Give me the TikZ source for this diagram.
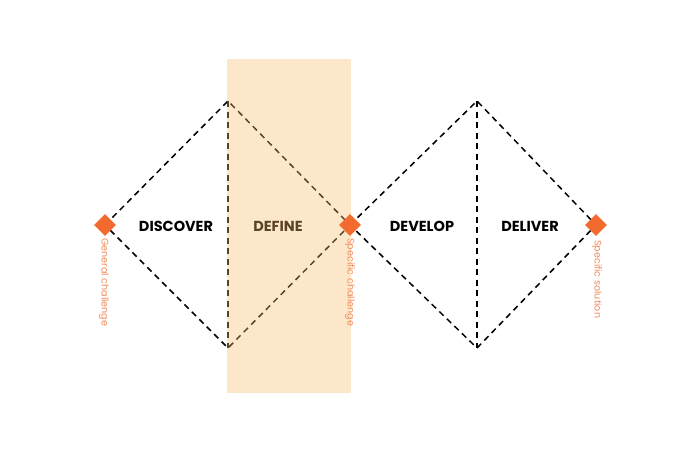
\documentclass[tikz,border=0pt]{standalone}
\usepackage{fontspec}
\setmainfont{Poppins}
\usetikzlibrary{calc}
\definecolor{peach}{RGB}{250,189,111}
\definecolor{mark}{RGB}{242,106,46}
\definecolor{marktext}{RGB}{240,138,90}
\tikzset{
  dline/.style={draw=black, line width=1.5pt, dash pattern=on 6pt off 4.5pt},
  phase/.style={font=\bfseries\fontsize{14.5}{16}\selectfont, inner sep=0pt},
  marker/.style={fill=mark, draw=none, minimum size=15.5pt, rotate=45, inner sep=0pt},
  sidelabel/.style={font=\fontsize{9.6}{11}\selectfont, text=marktext, rotate=-90, anchor=west, inner sep=0pt}
}
\begin{document}
\begin{tikzpicture}[x=1pt,y=-1pt]
\useasboundingbox (0,0) rectangle (700,450);
\coordinate (L) at (105,225);
\coordinate (T1) at (228,101);
\coordinate (B1) at (228,348);
\coordinate (M) at (350,225);
\coordinate (T2) at (477,101);
\coordinate (B2) at (477,348);
\coordinate (R) at (596,225);
\path[dline] (L) -- (T1) -- (M) -- (B1) -- cycle;
\path[dline] (T1) -- (B1);
\path[dline] (M) -- (T2) -- (R) -- (B2) -- cycle;
\path[dline] (T2) -- (B2);
\fill[peach, fill opacity=0.36] (227,59) rectangle (351,393);
\node[phase] (discover) at (176,226) {DISCOVER};
\node[phase, text={rgb,255:red,90;green,68;blue,40}] (define) at (278,226) {DEFINE};
\node[phase] (develop) at (422,226) {DEVELOP};
\node[phase] (deliver) at (530,226) {DELIVER};
\node[marker] (mL) at (L) {};
\node[marker] (mM) at (M) {};
\node[marker] (mR) at (R) {};
\node[sidelabel] (gc) at (104,238) {General challenge};
\node[sidelabel] (sc) at (350,238) {Specific challenge};
\node[sidelabel] (ss) at (597,240) {Specific solution};
\end{tikzpicture}
\end{document}
